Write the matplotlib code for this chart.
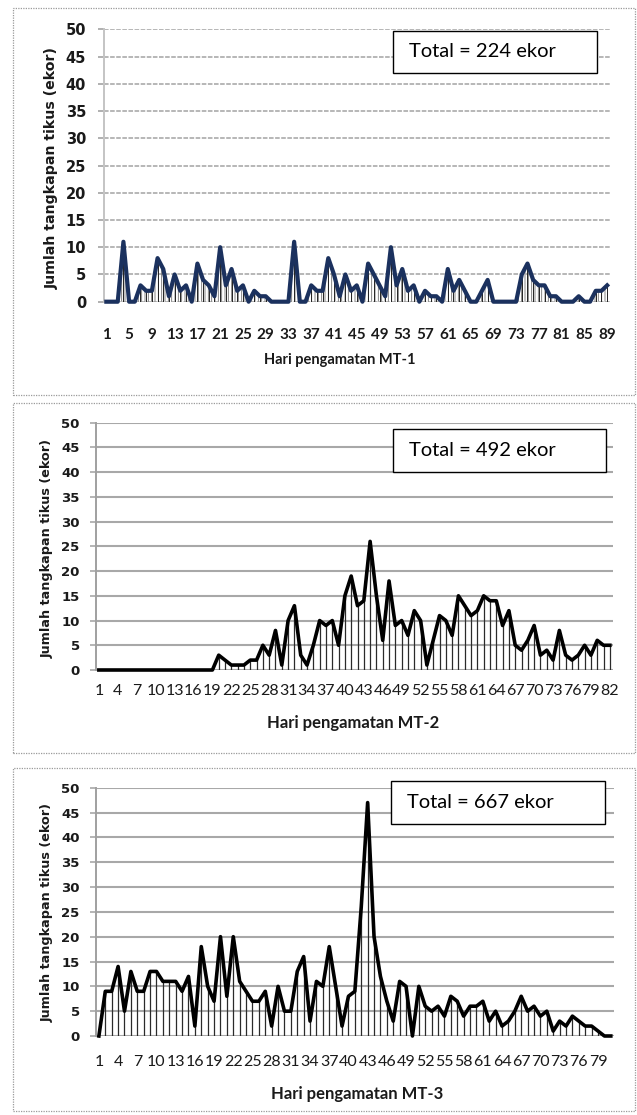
import matplotlib
matplotlib.use("Agg")
import matplotlib.pyplot as plt
from matplotlib.patches import Rectangle
import numpy as np

plt.rcParams['hatch.linewidth'] = 0.6

# ---------------- data ----------------
mt1 = [0, 0, 0, 11, 0, 0, 3, 2, 2, 8,
       6, 1, 5, 2, 3, 0, 7, 4, 3, 1,
       10, 3, 6, 2, 3, 0, 2, 1, 1, 0,
       0, 0, 0, 11, 0, 0, 3, 2, 2, 8,
       5, 1, 5, 2, 3, 0, 7, 5, 3, 1,
       10, 3, 6, 2, 3, 0, 2, 1, 1, 0,
       6, 2, 4, 2, 0, 0, 2, 4, 0, 0,
       0, 0, 0, 5, 7, 4, 3, 3, 1, 1,
       0, 0, 0, 1, 0, 0, 2, 2, 3]
mt2 = [0] * 19 + [3, 2, 1, 1, 1, 2, 2, 5, 3, 8, 1,
                  10, 13, 3, 1, 5, 10, 9, 10, 5, 15,
                  19, 13, 14, 26, 15, 6, 18, 9, 10, 7,
                  12, 10, 1, 6, 11, 10, 7, 15, 13, 11,
                  12, 15, 14, 14, 9, 12, 5, 4, 6, 9,
                  3, 4, 2, 8, 3, 2, 3, 5, 3, 6, 5, 5]
mt3 = [0, 9, 9, 14, 5, 13, 9, 9, 13, 13,
       11, 11, 11, 9, 12, 2, 18, 10, 7, 20,
       8, 20, 11, 9, 7, 7, 9, 2, 10, 5,
       5, 13, 16, 3, 11, 10, 18, 10, 2, 8,
       9, 26, 47, 20, 12, 7, 3, 11, 10, 0,
       10, 6, 5, 6, 4, 8, 7, 4, 6, 6,
       7, 3, 5, 2, 3, 5, 8, 5, 6, 4,
       5, 1, 3, 2, 4, 3, 2, 2, 1, 0, 0]

days1 = list(range(1, len(mt1) + 1))
days2 = list(range(1, len(mt2) + 1))
days3 = list(range(1, len(mt3) + 1))
ticks1 = list(range(1, 90, 4))
ticks2 = list(range(1, 83, 3))
ticks3 = list(range(1, 80, 3))
yticks = list(range(0, 51, 5))
totals = [224, 492, 667]
xlabels = ["Hari pengamatan MT-1", "Hari pengamatan MT-2", "Hari pengamatan MT-3"]
ylabel = "Jumlah tangkapan tikus (ekor)"

# ---------------- figure ----------------
W, H = 637, 1115
fig = plt.figure(figsize=(W / 100, H / 100), dpi=100)
fig.patch.set_facecolor("white")


def fx(x):
    return x / W


def fy(y):
    return 1 - y / H


def px_axes(l, t, r, b):
    return fig.add_axes([fx(l), fy(b), (r - l) / W, (b - t) / H])


def frame(l, t, r, b):
    fig.patches.append(Rectangle((fx(l), fy(b)), (r - l) / W, (b - t) / H,
                                 transform=fig.transFigure, fill=False,
                                 edgecolor="#9a9a9a", lw=0.9, ls=(0, (1, 1))))


def total_box(l, t, r, b, text, tx):
    fig.patches.append(Rectangle((fx(l), fy(b)), (r - l) / W, (b - t) / H,
                                 transform=fig.transFigure, facecolor="white",
                                 edgecolor="black", lw=1.0, zorder=5))
    fig.text(fx(tx), fy((t + b) / 2), text, fontsize=14.5, family="Lato",
             ha="left", va="center", zorder=6)


# panel frames
frame(13, 8, 635, 395)
frame(13, 403, 635, 753)
frame(13, 768, 635, 1111)

panels = [
    dict(data=mt1, days=days1, ticks=ticks1, box=(103.5, 29.3, 610, 301.7),
         line="#1b315e", lw=3.0, grid="#a3a3a3", gls=(0, (3, 1)), glw=1.1,
         spine="#c4c4c4", ytfs=10.5, xtfs=11, xtbold=True, xpad=19,
         ypad=8, ylx=52, yly=168, xlx=340, xly=360, ylfs=10.2, xlfs=10.5,
         tbox=(392.7, 30.7, 596.7, 72.7, 409)),
    dict(data=mt2, days=days2, ticks=ticks2, box=(95.7, 422.7, 613, 670),
         line="black", lw=2.6, grid="#a8a8a8", gls="-", glw=1.5,
         spine="#a0a0a0", ytfs=9.5, xtfs=11.5, xtbold=False, xpad=10,
         ypad=7, ylx=47, yly=548, xlx=353, xly=723, ylfs=9.2, xlfs=12,
         tbox=(392.7, 429.3, 606, 471.7, 409)),
    dict(data=mt3, days=days3, ticks=ticks3, box=(95.7, 787.7, 614, 1036),
         line="black", lw=2.6, grid="#a8a8a8", gls="-", glw=1.5,
         spine="#a0a0a0", ytfs=9.5, xtfs=11.5, xtbold=False, xpad=14,
         ypad=7, ylx=47, yly=913, xlx=357, xly=1094, ylfs=9.2, xlfs=12,
         tbox=(390.7, 780.7, 605, 824, 407)),
]

for k, p in enumerate(panels):
    l, t, r, b = p["box"]
    ax = px_axes(l, t, r, b)
    n = len(p["data"])
    x = np.array(p["days"])
    y = np.array(p["data"])
    ax.set_xlim(0.5, n + 0.5)
    ax.set_ylim(0, 50)
    for s in ["top", "right", "bottom"]:
        ax.spines[s].set_visible(False)
    ax.spines["left"].set_color(p["spine"])
    ax.spines["left"].set_linewidth(1.4)
    if k == 0:
        ax.spines["left"].set_linestyle((0, (1, 1)))
    ax.set_yticks(yticks)
    ax.yaxis.grid(True, color=p["grid"], lw=p["glw"], ls=p["gls"])
    ax.set_axisbelow(True)
    ax.tick_params(axis="y", direction="out", length=4.5, width=1.2,
                   color=p["grid"], pad=p["ypad"], labelsize=p["ytfs"],
                   labelcolor="#1a1a1a")
    for lab in ax.get_yticklabels():
        lab.set_fontweight("bold")
        lab.set_family("DejaVu Sans")
    ax.set_xticks(p["ticks"])
    ax.set_xticklabels([str(v) for v in p["ticks"]])
    ax.tick_params(axis="x", length=0, pad=p["xpad"], labelsize=p["xtfs"],
                   labelcolor="#1a1a1a")
    for lab in ax.get_xticklabels():
        lab.set_family("Lato")
        if p["xtbold"]:
            lab.set_fontweight("bold")

    if k == 0:
        ax.fill_between(x, 0, y, facecolor="none", edgecolor="#707070",
                        hatch="|||||", lw=0, zorder=2)
        ax.vlines(x, 0, y, color="#222222", lw=0.7, zorder=2)
    else:
        ax.vlines(x, 0, y, color="#2a2a2a", lw=0.9, zorder=2)
    ax.plot(x, y, color=p["line"], lw=p["lw"], solid_joinstyle="round",
            zorder=3, clip_on=False)

    ax.set_ylabel(ylabel, fontsize=p["ylfs"], fontweight="bold",
                  family="DejaVu Sans", color="#1a1a1a")
    ax.yaxis.set_label_coords((p["ylx"] - l) / (r - l), (b - p["yly"]) / (b - t))
    ax.set_xlabel(xlabels[k], fontsize=p["xlfs"], fontweight="bold",
                  family="Lato", color="#1a1a1a")
    ax.xaxis.set_label_coords((p["xlx"] - l) / (r - l), (b - p["xly"]) / (b - t))
    ax.xaxis.label.set_va("center")
    ax.yaxis.label.set_va("center")

    tl, tt, tr, tb, tx = p["tbox"]
    total_box(tl, tt, tr, tb, f"Total = {totals[k]} ekor", tx)

fig.savefig("out.png", dpi=100, facecolor="white")
